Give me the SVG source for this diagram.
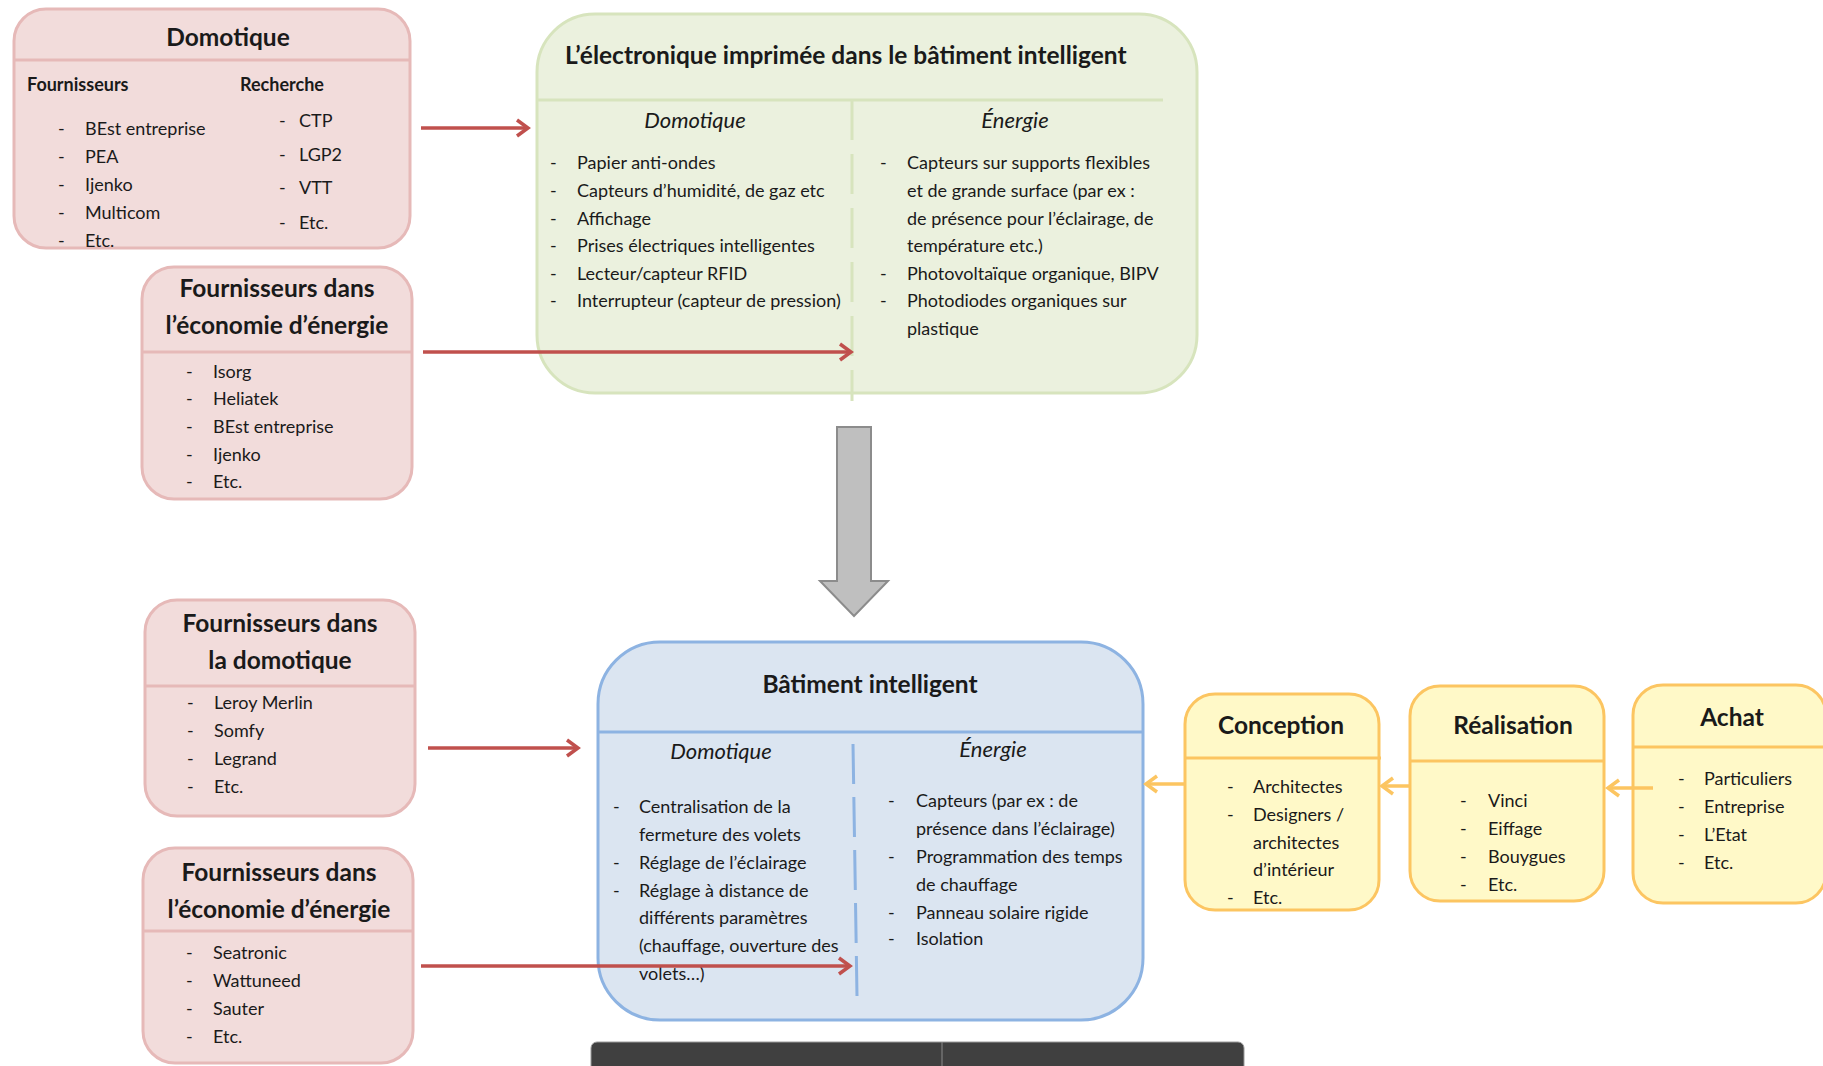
<svg xmlns="http://www.w3.org/2000/svg" width="1823" height="1066" viewBox="0 0 1823 1066">
<defs>
<style>
text{font-family:Lato,"Open Sans","Liberation Sans",sans-serif;fill:#1a1a1a}
.t{font-size:24.5px;font-weight:bold;text-anchor:middle}
.h{font-size:18px;font-weight:bold}
.i{font-size:18px}
.s{font-size:22px;font-style:italic;text-anchor:middle}
.pink{fill:#f2dcdb;stroke:#e6b9b8;stroke-width:3}
.pl{stroke:#e6b9b8;stroke-width:3}
.green{fill:#ebf1de;stroke:#d7e4bd;stroke-width:3}
.gl{stroke:#d7e4bd;stroke-width:3}
.blue{fill:#dbe5f1;stroke:#8db3e2;stroke-width:3}
.bl{stroke:#8db3e2;stroke-width:3}
.yel{fill:#fff9c8;stroke:#fcc561;stroke-width:3}
.yl{stroke:#fcc561;stroke-width:3}
.red{stroke:#c0504d;stroke-width:3.5;fill:none;marker-end:url(#mr)}
.ya{stroke:#fcc561;stroke-width:3.5;fill:none;marker-end:url(#my)}
</style>
<marker id="mr" markerUnits="userSpaceOnUse" markerWidth="20" markerHeight="24" refX="13" refY="10" orient="auto">
<path d="M2,2 L13,10 L2,18" fill="none" stroke="#c0504d" stroke-width="3.5"/>
</marker>
<marker id="my" markerUnits="userSpaceOnUse" markerWidth="20" markerHeight="24" refX="13" refY="10" orient="auto">
<path d="M2,2 L13,10 L2,18" fill="none" stroke="#fcc561" stroke-width="3.5"/>
</marker>
</defs>

<g id="domotique">
<rect class="pink" x="14" y="9" width="396" height="239" rx="32"/>
<line class="pl" x1="14" y1="60" x2="410" y2="60"/>
<text class="t" x="228" y="46">Domotique</text>
<text class="h" x="27" y="91">Fournisseurs</text>
<text class="h" x="240" y="91">Recherche</text>
<text class="i" x="58" y="135">-</text><text class="i" x="85" y="135">BEst entreprise</text>
<text class="i" x="58" y="163">-</text><text class="i" x="85" y="163">PEA</text>
<text class="i" x="58" y="191">-</text><text class="i" x="85" y="191">Ijenko</text>
<text class="i" x="58" y="219">-</text><text class="i" x="85" y="219">Multicom</text>
<text class="i" x="58" y="247">-</text><text class="i" x="85" y="247">Etc.</text>
<text class="i" x="279" y="127">-</text><text class="i" x="299" y="127">CTP</text>
<text class="i" x="279" y="161">-</text><text class="i" x="299" y="161">LGP2</text>
<text class="i" x="279" y="194">-</text><text class="i" x="299" y="194">VTT</text>
<text class="i" x="279" y="229">-</text><text class="i" x="299" y="229">Etc.</text>
</g>

<g id="fournisseurs-energie-1">
<rect class="pink" x="142" y="267" width="270" height="232" rx="32"/>
<line class="pl" x1="142" y1="352" x2="412" y2="352"/>
<text class="t" x="277" y="297">Fournisseurs dans</text>
<text class="t" x="277" y="334">l’économie d’énergie</text>
<text class="i" x="186" y="378">-</text><text class="i" x="213" y="378">Isorg</text>
<text class="i" x="186" y="405">-</text><text class="i" x="213" y="405">Heliatek</text>
<text class="i" x="186" y="433">-</text><text class="i" x="213" y="433">BEst entreprise</text>
<text class="i" x="186" y="461">-</text><text class="i" x="213" y="461">Ijenko</text>
<text class="i" x="186" y="488">-</text><text class="i" x="213" y="488">Etc.</text>
</g>

<g id="fournisseurs-domotique">
<rect class="pink" x="145" y="600" width="270" height="216" rx="32"/>
<line class="pl" x1="145" y1="686" x2="415" y2="686"/>
<text class="t" x="280" y="632">Fournisseurs dans</text>
<text class="t" x="280" y="669">la domotique</text>
<text class="i" x="187" y="709">-</text><text class="i" x="214" y="709">Leroy Merlin</text>
<text class="i" x="187" y="737">-</text><text class="i" x="214" y="737">Somfy</text>
<text class="i" x="187" y="765">-</text><text class="i" x="214" y="765">Legrand</text>
<text class="i" x="187" y="793">-</text><text class="i" x="214" y="793">Etc.</text>
</g>

<g id="fournisseurs-energie-2">
<rect class="pink" x="143" y="848" width="270" height="215" rx="32"/>
<line class="pl" x1="143" y1="931" x2="413" y2="931"/>
<text class="t" x="279" y="881">Fournisseurs dans</text>
<text class="t" x="279" y="918">l’économie d’énergie</text>
<text class="i" x="186" y="959">-</text><text class="i" x="213" y="959">Seatronic</text>
<text class="i" x="186" y="987">-</text><text class="i" x="213" y="987">Wattuneed</text>
<text class="i" x="186" y="1015">-</text><text class="i" x="213" y="1015">Sauter</text>
<text class="i" x="186" y="1043">-</text><text class="i" x="213" y="1043">Etc.</text>
</g>

<g id="electronique-imprimee">
<rect class="green" x="537" y="14" width="660" height="379" rx="58"/>
<line class="gl" x1="537" y1="100" x2="1163" y2="100"/>
<line class="gl" x1="852" y1="100" x2="852" y2="401" stroke-dasharray="40 14"/>
<text x="565" y="64" style="font-size:24.5px;font-weight:bold">L’électronique imprimée dans le bâtiment intelligent</text>
<text class="s" x="695" y="128">Domotique</text>
<text class="s" x="1015" y="128">Énergie</text>
<text class="i" x="550" y="169">-</text><text class="i" x="577" y="169">Papier anti-ondes</text>
<text class="i" x="550" y="197">-</text><text class="i" x="577" y="197">Capteurs d’humidité, de gaz etc</text>
<text class="i" x="550" y="225">-</text><text class="i" x="577" y="225">Affichage</text>
<text class="i" x="550" y="252">-</text><text class="i" x="577" y="252">Prises électriques intelligentes</text>
<text class="i" x="550" y="280">-</text><text class="i" x="577" y="280">Lecteur/capteur RFID</text>
<text class="i" x="550" y="307">-</text><text class="i" x="577" y="307">Interrupteur (capteur de pression)</text>
<text class="i" x="880" y="169">-</text><text class="i" x="907" y="169">Capteurs sur supports flexibles</text>
<text class="i" x="907" y="197">et de grande surface (par ex :</text>
<text class="i" x="907" y="225">de présence pour l’éclairage, de</text>
<text class="i" x="907" y="252">température etc.)</text>
<text class="i" x="880" y="280">-</text><text class="i" x="907" y="280">Photovoltaïque organique, BIPV</text>
<text class="i" x="880" y="307">-</text><text class="i" x="907" y="307">Photodiodes organiques sur</text>
<text class="i" x="907" y="335">plastique</text>
</g>

<g id="batiment-intelligent">
<rect class="blue" x="598" y="642" width="545" height="378" rx="62"/>
<line class="bl" x1="598" y1="732" x2="1143" y2="732"/>
<line class="bl" x1="853" y1="744" x2="857" y2="996" stroke-dasharray="40 13"/>
<text class="t" x="870" y="693">Bâtiment intelligent</text>
<text class="s" x="721" y="759">Domotique</text>
<text class="s" x="993" y="757">Énergie</text>
<text class="i" x="613" y="813">-</text><text class="i" x="639" y="813">Centralisation de la</text>
<text class="i" x="639" y="841">fermeture des volets</text>
<text class="i" x="613" y="869">-</text><text class="i" x="639" y="869">Réglage de l’éclairage</text>
<text class="i" x="613" y="897">-</text><text class="i" x="639" y="897">Réglage à distance de</text>
<text class="i" x="639" y="924">différents paramètres</text>
<text class="i" x="639" y="952">(chauffage, ouverture des</text>
<text class="i" x="639" y="980">volets…)</text>
<text class="i" x="888" y="807">-</text><text class="i" x="916" y="807">Capteurs (par ex : de</text>
<text class="i" x="916" y="835">présence dans l’éclairage)</text>
<text class="i" x="888" y="863">-</text><text class="i" x="916" y="863">Programmation des temps</text>
<text class="i" x="916" y="891">de chauffage</text>
<text class="i" x="888" y="919">-</text><text class="i" x="916" y="919">Panneau solaire rigide</text>
<text class="i" x="888" y="945">-</text><text class="i" x="916" y="945">Isolation</text>
</g>

<g id="conception">
<rect class="yel" x="1185" y="694" width="194" height="216" rx="30"/>
<line class="yl" x1="1185" y1="758" x2="1381" y2="758"/>
<text class="t" x="1281" y="734">Conception</text>
<text class="i" x="1227" y="793">-</text><text class="i" x="1253" y="793">Architectes</text>
<text class="i" x="1227" y="821">-</text><text class="i" x="1253" y="821">Designers /</text>
<text class="i" x="1253" y="849">architectes</text>
<text class="i" x="1253" y="876">d’intérieur</text>
<text class="i" x="1227" y="904">-</text><text class="i" x="1253" y="904">Etc.</text>
</g>

<g id="realisation">
<rect class="yel" x="1410" y="686" width="194" height="215" rx="30"/>
<line class="yl" x1="1410" y1="761" x2="1604" y2="761"/>
<text class="t" x="1513" y="734">Réalisation</text>
<text class="i" x="1460" y="807">-</text><text class="i" x="1488" y="807">Vinci</text>
<text class="i" x="1460" y="835">-</text><text class="i" x="1488" y="835">Eiffage</text>
<text class="i" x="1460" y="863">-</text><text class="i" x="1488" y="863">Bouygues</text>
<text class="i" x="1460" y="891">-</text><text class="i" x="1488" y="891">Etc.</text>
</g>

<g id="achat">
<rect class="yel" x="1633" y="685" width="193" height="218" rx="30"/>
<line class="yl" x1="1633" y1="747" x2="1826" y2="747"/>
<text class="t" x="1732" y="726">Achat</text>
<text class="i" x="1678" y="785">-</text><text class="i" x="1704" y="785">Particuliers</text>
<text class="i" x="1678" y="813">-</text><text class="i" x="1704" y="813">Entreprise</text>
<text class="i" x="1678" y="841">-</text><text class="i" x="1704" y="841">L’Etat</text>
<text class="i" x="1678" y="869">-</text><text class="i" x="1704" y="869">Etc.</text>
</g>

<g id="bottom-bar">
<rect x="591" y="1042" width="653" height="40" rx="6" fill="#404040" stroke="#9a9a9a" stroke-width="1"/>
<line x1="942" y1="1042" x2="942" y2="1066" stroke="#8a8a8a" stroke-width="1"/>
</g>

<g id="connectors">
<line class="red" x1="421" y1="128" x2="528" y2="128"/>
<line class="red" x1="423" y1="352" x2="851" y2="352"/>
<line class="red" x1="428" y1="748" x2="578" y2="748"/>
<line class="red" x1="421" y1="966" x2="850" y2="966"/>
<line class="ya" x1="1185" y1="784" x2="1146" y2="784"/>
<line class="ya" x1="1410" y1="786" x2="1382" y2="786"/>
<line class="ya" x1="1653" y1="788" x2="1608" y2="788"/>
<polygon points="837,427 871,427 871,581 888,581 854,616 820,581 837,581" fill="#bfbfbf" stroke="#8c8c8c" stroke-width="2"/>
</g>
</svg>
